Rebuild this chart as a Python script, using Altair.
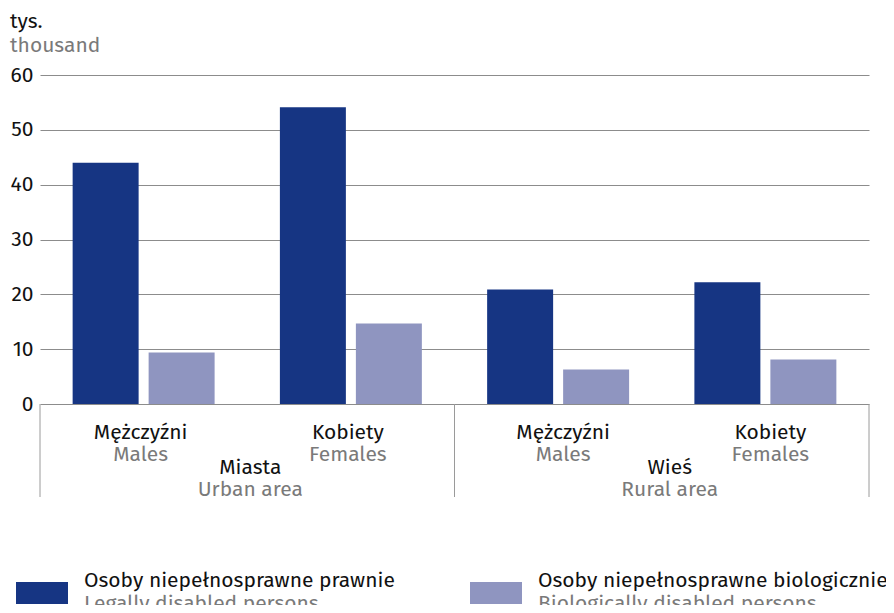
import altair as alt
import pandas as pd

FONT = "Fira Sans, Noto Sans, sans-serif"
BLACK = "#111111"
GRAY = "#7a7a7a"
FS = 21

cat_keys = ["U-M", "U-F", "R-M", "R-F"]
cat_area = ["U", "U", "R", "R"]
sex_pl = ["Mężczyźni", "Kobiety", "Mężczyźni", "Kobiety"]
sex_en = ["Males", "Females", "Males", "Females"]
area_keys = ["U", "R"]
area_first_cat = ["U-M", "R-M"]
area_pl = ["Miasta", "Wieś"]
area_en = ["Urban area", "Rural area"]
series_pl = ["Osoby niepełnosprawne prawnie", "Osoby niepełnosprawne biologicznie"]
series_en = ["Legally disabled persons", "Biologically disabled persons"]
colors = ["#163583", "#8f95c0"]
legal = [44.0, 54.1, 20.9, 22.2]
biological = [9.4, 14.7, 6.3, 8.1]
y_ticks = [0, 10, 20, 30, 40, 50, 60]

W, H = 829, 329

rows = []
for i, c in enumerate(cat_keys):
    rows.append({"cat": c, "series": series_pl[0], "value": legal[i]})
    rows.append({"cat": c, "series": series_pl[1], "value": biological[i]})
bars_df = pd.DataFrame(rows)
cat_df = pd.DataFrame({"cat": cat_keys, "area": cat_area, "pl": sex_pl, "en": sex_en})
area_df = pd.DataFrame({"cat": area_first_cat, "area": area_keys, "pl": area_pl, "en": area_en})

xscale = alt.Scale(domain=cat_keys, paddingInner=0, paddingOuter=0)

bars = alt.Chart(bars_df).mark_bar().encode(
    x=alt.X("cat:N", scale=xscale, axis=None),
    xOffset=alt.XOffset("series:N", sort=series_pl,
                        scale=alt.Scale(paddingInner=0.1316, paddingOuter=0.4295)),
    y=alt.Y("value:Q", scale=alt.Scale(domain=[0, 60], nice=False),
            axis=alt.Axis(values=y_ticks, title=None, grid=True, gridColor="#8c8c8c",
                          gridWidth=1, domain=False, ticks=False, labelFontSize=FS,
                          labelPadding=7, labelColor=BLACK, labelFont=FONT)),
    color=alt.Color("series:N", scale=alt.Scale(domain=series_pl, range=colors), legend=None),
)

label_layers = []
for area, dx_cat, dx_area in [("U", -3, 3), ("R", 5, 8)]:
    cd = cat_df[cat_df["area"] == area]
    ad = area_df[area_df["area"] == area]
    label_layers.append(alt.Chart(cd).mark_text(fontSize=FS, font=FONT, color=BLACK, baseline="alphabetic", dx=dx_cat).encode(
        x=alt.X("cat:N", scale=xscale, axis=None), y=alt.value(364), text="pl:N"))
    label_layers.append(alt.Chart(cd).mark_text(fontSize=FS, font=FONT, color=GRAY, baseline="alphabetic", dx=dx_cat).encode(
        x=alt.X("cat:N", scale=xscale, axis=None), y=alt.value(386), text="en:N"))
    label_layers.append(alt.Chart(ad).mark_text(fontSize=FS, font=FONT, color=BLACK, baseline="alphabetic", dx=dx_area).encode(
        x=alt.X("cat:N", scale=xscale, axis=None, bandPosition=1), y=alt.value(399), text="pl:N"))
    label_layers.append(alt.Chart(ad).mark_text(fontSize=FS, font=FONT, color=GRAY, baseline="alphabetic", dx=dx_area).encode(
        x=alt.X("cat:N", scale=xscale, axis=None, bandPosition=1), y=alt.value(421), text="en:N"))

sep_left = alt.Chart(pd.DataFrame({"cat": ["U-M", "R-M"]})).mark_rule(color="#9a9a9a", strokeWidth=1).encode(
    x=alt.X("cat:N", scale=xscale, axis=None, bandPosition=0), y=alt.value(H), y2=alt.value(H + 93))
sep_right = alt.Chart(pd.DataFrame({"cat": ["R-F"]})).mark_rule(color="#9a9a9a", strokeWidth=1).encode(
    x=alt.X("cat:N", scale=xscale, axis=None, bandPosition=1), y=alt.value(H), y2=alt.value(H + 93))

base = alt.Chart(pd.DataFrame({"a": [0]}))
title1 = base.mark_text(text="tys.", fontSize=FS, font=FONT, color=BLACK, align="left", baseline="alphabetic").encode(
    x=alt.value(-30), y=alt.value(-47))
title2 = base.mark_text(text="thousand", fontSize=FS, font=FONT, color=GRAY, align="left", baseline="alphabetic").encode(
    x=alt.value(-30), y=alt.value(-23))

legend_layers = []
for i, lx in enumerate([-24, 430]):
    legend_layers.append(base.mark_rect(color=colors[i]).encode(
        x=alt.value(lx), x2=alt.value(lx + 52), y=alt.value(507), y2=alt.value(529)))
    legend_layers.append(base.mark_text(text=series_pl[i], fontSize=FS, font=FONT, color=BLACK,
                                        align="left", baseline="alphabetic").encode(
        x=alt.value(lx + 68), y=alt.value(512)))
    legend_layers.append(base.mark_text(text=series_en[i], fontSize=FS, font=FONT, color=GRAY,
                                        align="left", baseline="alphabetic").encode(
        x=alt.value(lx + 68), y=alt.value(535)))

chart = alt.layer(
    bars, sep_left, sep_right, *label_layers, title1, title2, *legend_layers
).properties(
    width=W, height=H,
    autosize=alt.AutoSizeParams(type="none"),
    padding={"left": 32, "top": 67, "right": 17, "bottom": 201},
).configure_view(stroke=None)

chart.save("out.html", embed_options={"renderer": "svg", "actions": False})
